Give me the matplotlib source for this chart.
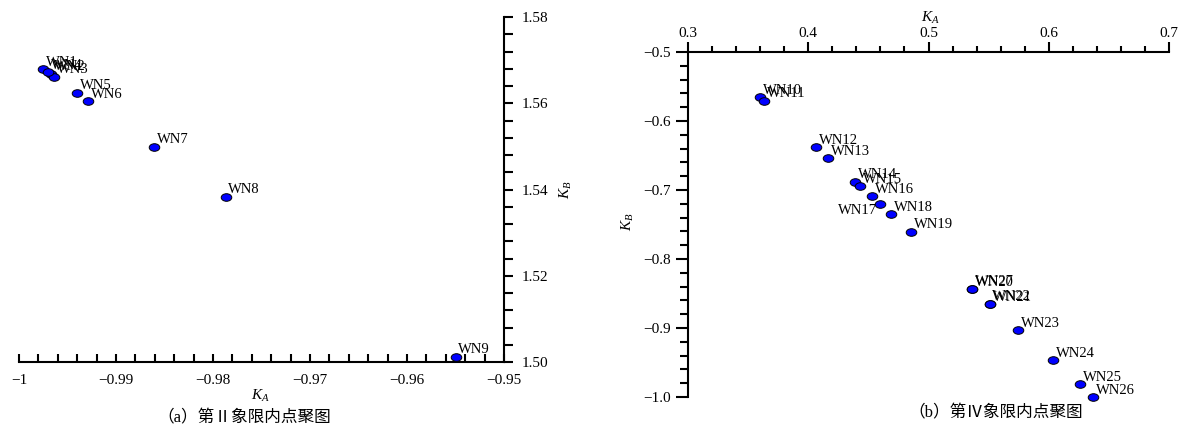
import matplotlib
matplotlib.use("Agg")
import matplotlib.pyplot as plt
from matplotlib.path import Path
from matplotlib.transforms import Affine2D
from matplotlib.ticker import MultipleLocator, FixedLocator, FixedFormatter

# ------------------------------------------------------------
# Data
# ------------------------------------------------------------
# (a) quadrant II
names_a = ["WN1", "WN2", "WN3", "WN4", "WN5", "WN6", "WN7", "WN8", "WN9"]
ka_a = [-0.9975, -0.9967, -0.9964, -0.9970, -0.9940, -0.9929, -0.9861, -0.9787, -0.9550]
kb_a = [1.5679, 1.5668, 1.5661, 1.5672, 1.5624, 1.5605, 1.5499, 1.5383, 1.5012]

xticks_a = [-1.0, -0.99, -0.98, -0.97, -0.96, -0.95]
xlabels_a = ["\u22121", "\u22120.99", "\u22120.98", "\u22120.97", "\u22120.96", "\u22120.95"]
yticks_a = [1.50, 1.52, 1.54, 1.56, 1.58]
ylabels_a = ["1.50", "1.52", "1.54", "1.56", "1.58"]

# (b) quadrant IV
names_b = ["WN10", "WN11", "WN12", "WN13", "WN14", "WN15", "WN16", "WN17", "WN18",
           "WN19", "WN20", "WN21", "WN22", "WN23", "WN24", "WN25", "WN26", "WN27"]
ka_b = [0.3597, 0.3632, 0.4067, 0.4167, 0.4389, 0.4431, 0.4528, 0.4597, 0.4689,
        0.4853, 0.5360, 0.5512, 0.5508, 0.5748, 0.6034, 0.6261, 0.6372, 0.5365]
kb_b = [-0.5652, -0.5706, -0.6377, -0.6541, -0.6880, -0.6942, -0.7087, -0.7207, -0.7352,
        -0.7604, -0.8439, -0.8652, -0.8645, -0.9029, -0.9468, -0.9816, -1.0000, -0.8432]

xticks_b = [0.3, 0.4, 0.5, 0.6, 0.7]
xlabels_b = ["0.3", "0.4", "0.5", "0.6", "0.7"]
yticks_b = [-1.0, -0.9, -0.8, -0.7, -0.6, -0.5]
ylabels_b = ["\u22121.0", "\u22120.9", "\u22120.8", "\u22120.7", "\u22120.6", "\u22120.5"]

# ------------------------------------------------------------
# Style
# ------------------------------------------------------------
plt.rcParams["font.family"] = ["Liberation Serif", "Noto Sans CJK SC", "DejaVu Sans"]
plt.rcParams["mathtext.fontset"] = "custom"
plt.rcParams["mathtext.it"] = "Liberation Serif:italic"
plt.rcParams["mathtext.rm"] = "Liberation Serif"

W, H = 1179, 428
LW = 1.5

ellipse = Path.unit_circle().transformed(Affine2D().scale(1.0, 0.72))


def rect(x0, y0, x1, y1):
    # pixel box (top-left origin) -> figure fraction
    return [x0 / W, 1 - y1 / H, (x1 - x0) / W, (y1 - y0) / H]


def draw_points(ax, xs, ys, names, special=None):
    special = special or {}
    ax.plot(xs, ys, linestyle="none", marker=ellipse, markersize=7.6,
            markerfacecolor="#0000ff", markeredgecolor="black", markeredgewidth=0.7,
            clip_on=False, zorder=3)
    for x, y, n in zip(xs, ys, names):
        dx, dy, ha, va = special.get(n, (2.0, 2.5, "left", "baseline"))
        ax.annotate(n, (x, y), xytext=(dx, dy), textcoords="offset points",
                    ha=ha, va=va, fontsize=10.5, annotation_clip=False)


fig = plt.figure(figsize=(W / 100, H / 100), dpi=100)

# ---------------- (a) ----------------
ax1 = fig.add_axes(rect(19, 17, 504, 362))
ax1.set_xlim(-1.0, -0.95)
ax1.set_ylim(1.50, 1.58)
for s in ["left", "top"]:
    ax1.spines[s].set_visible(False)
for s in ["right", "bottom"]:
    ax1.spines[s].set_linewidth(LW)
ax1.yaxis.tick_right()
ax1.xaxis.set_major_locator(FixedLocator(xticks_a))
ax1.xaxis.set_major_formatter(FixedFormatter(xlabels_a))
ax1.xaxis.set_minor_locator(MultipleLocator(0.002))
ax1.yaxis.set_major_locator(FixedLocator(yticks_a))
ax1.yaxis.set_major_formatter(FixedFormatter(ylabels_a))
ax1.yaxis.set_minor_locator(MultipleLocator(0.004))
ax1.tick_params(axis="x", which="both", direction="in", length=5.5, width=LW, pad=9, labelsize=11)
ax1.tick_params(axis="y", which="both", direction="out", length=6.5, width=LW, pad=6, labelsize=11,
                right=True, left=False)
draw_points(ax1, ka_a, kb_a, names_a)

fig.text(260 / W, 1 - 396 / H, r"$K_A$", ha="center", va="center", fontsize=11)
fig.text(566 / W, 1 - 190 / H, r"$K_B$", ha="center", va="center", fontsize=11, rotation=90)
fig.text(244 / W, 1 - 418 / H, "（a）第Ⅱ象限内点聚图", ha="center", va="center", fontsize=12)

# ---------------- (b) ----------------
ax2 = fig.add_axes(rect(688, 52, 1169, 397))
ax2.set_xlim(0.3, 0.7)
ax2.set_ylim(-1.0, -0.5)
for s in ["right", "bottom"]:
    ax2.spines[s].set_visible(False)
for s in ["left", "top"]:
    ax2.spines[s].set_linewidth(LW)
ax2.xaxis.tick_top()
ax2.xaxis.set_major_locator(FixedLocator(xticks_b))
ax2.xaxis.set_major_formatter(FixedFormatter(xlabels_b))
ax2.xaxis.set_minor_locator(MultipleLocator(0.02))
ax2.yaxis.set_major_locator(FixedLocator(yticks_b))
ax2.yaxis.set_major_formatter(FixedFormatter(ylabels_b))
ax2.yaxis.set_minor_locator(MultipleLocator(0.02))
ax2.tick_params(axis="x", which="major", direction="out", length=7, width=LW, pad=1.5, labelsize=11)
ax2.tick_params(axis="x", which="minor", direction="out", length=4, width=LW)
ax2.tick_params(axis="y", which="major", direction="out", length=8.6, width=LW, pad=3.5, labelsize=11)
ax2.tick_params(axis="y", which="minor", direction="out", length=5.8, width=LW)
draw_points(ax2, ka_b, kb_b, names_b,
            special={"WN17": (-2.0, 0.5, "right", "top")})

fig.text(930 / W, 1 - 18 / H, r"$K_A$", ha="center", va="center", fontsize=11)
fig.text(628 / W, 1 - 222 / H, r"$K_B$", ha="center", va="center", fontsize=11, rotation=90)
fig.text(908 / W, 1 - 413 / H, "（b）第Ⅳ象限内点聚图", ha="left", va="center", fontsize=12)

fig.savefig("out.png", dpi=100)
